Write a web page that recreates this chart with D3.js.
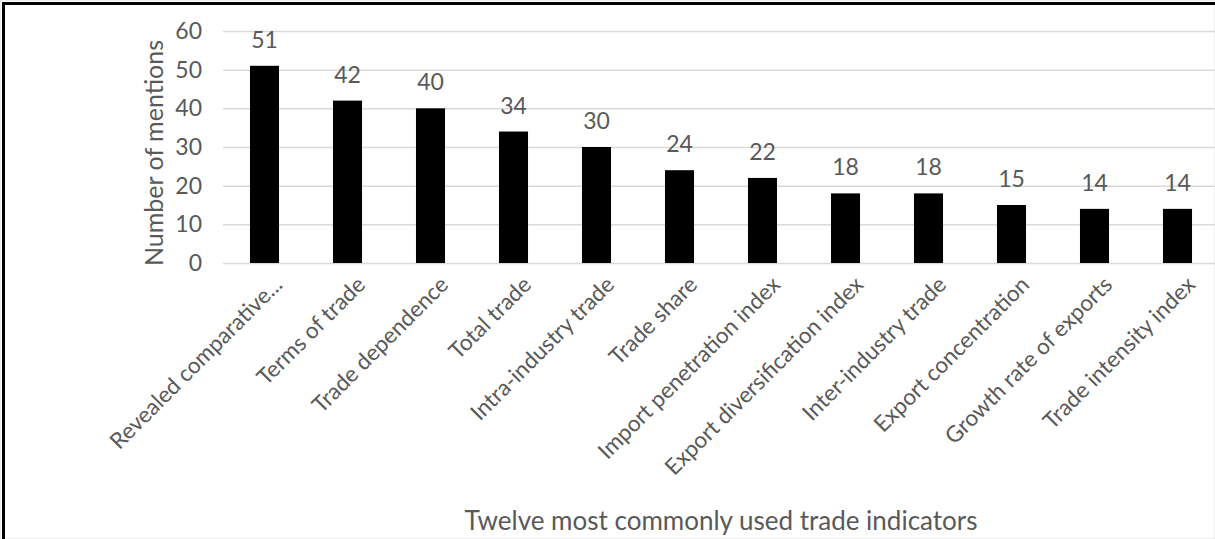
<!DOCTYPE html>
<html><head><meta charset="utf-8">
<script src="https://cdn.jsdelivr.net/npm/d3@7/dist/d3.min.js"></script>
<style>body{margin:0;background:#fff}svg{display:block}text{font-family:Lato,"Open Sans",sans-serif;fill:#595959}</style>
</head><body>
<svg id="chart" width="1215" height="539"></svg>
<script>
const categories = ["Revealed comparative...","Terms of trade","Trade dependence","Total trade","Intra-industry trade","Trade share","Import penetration index","Export diversification index","Inter-industry trade","Export concentration","Growth rate of exports","Trade intensity index"];
const values = [51,42,40,34,30,24,22,18,18,15,14,14];
const yTicks = [0,10,20,30,40,50,60];
const yTitle = "Number of mentions";
const xTitle = "Twelve most commonly used trade indicators";

const svg = d3.select("#chart");
const W = 1215, H = 539;
const x = d3.scaleBand().domain(categories).range([223, 1219]).paddingInner(0.65).paddingOuter(0.325);
const y = d3.scaleLinear().domain([0,60]).range([263, 31]);

// border
svg.append("rect").attr("x",0.5).attr("y",0.5).attr("width",W-1).attr("height",H-1).attr("fill","none").attr("stroke","#eeeeee");
svg.append("line").attr("x1",3.5).attr("x2",3.5).attr("y1",2).attr("y2",H).attr("stroke","#000").attr("stroke-width",3);
svg.append("line").attr("x1",2).attr("x2",W).attr("y1",3.5).attr("y2",3.5).attr("stroke","#000").attr("stroke-width",3);

// gridlines
const yAxis = d3.axisLeft(y).tickValues(yTicks).tickSize(-(W-223)).tickPadding(21);
const gy = svg.append("g").attr("transform","translate(223,0)").call(yAxis);
gy.select(".domain").remove();
gy.selectAll(".tick line").attr("stroke","#d9d9d9").attr("stroke-width",1.5);
gy.selectAll(".tick text").attr("font-size",23).attr("fill","#595959").style("font-family","Lato");

// bars
svg.append("g").selectAll("rect").data(values).join("rect")
  .attr("x",(d,i)=>x(categories[i])).attr("width",x.bandwidth())
  .attr("y",d=>y(d)).attr("height",d=>y(0)-y(d)).attr("fill","#000");

// value labels
svg.append("g").selectAll("text").data(values).join("text")
  .attr("x",(d,i)=>x(categories[i])+x.bandwidth()/2).attr("y",d=>y(d)-18)
  .attr("text-anchor","middle").attr("font-size",23).text(d=>d);

// x labels
svg.append("g").selectAll("text").data(categories).join("text")
  .attr("transform",d=>`translate(${x(d)+x.bandwidth()/2+8},${275}) rotate(-45)`)
  .attr("text-anchor","end").attr("dy","0.7em").attr("font-size",22.5).text(d=>d);

// titles
svg.append("text").attr("transform","translate(163,153) rotate(-90)").attr("text-anchor","middle").attr("font-size",25).text(yTitle);
svg.append("text").attr("x",721).attr("y",530).attr("text-anchor","middle").attr("font-size",26).text(xTitle);
</script>
</body></html>
